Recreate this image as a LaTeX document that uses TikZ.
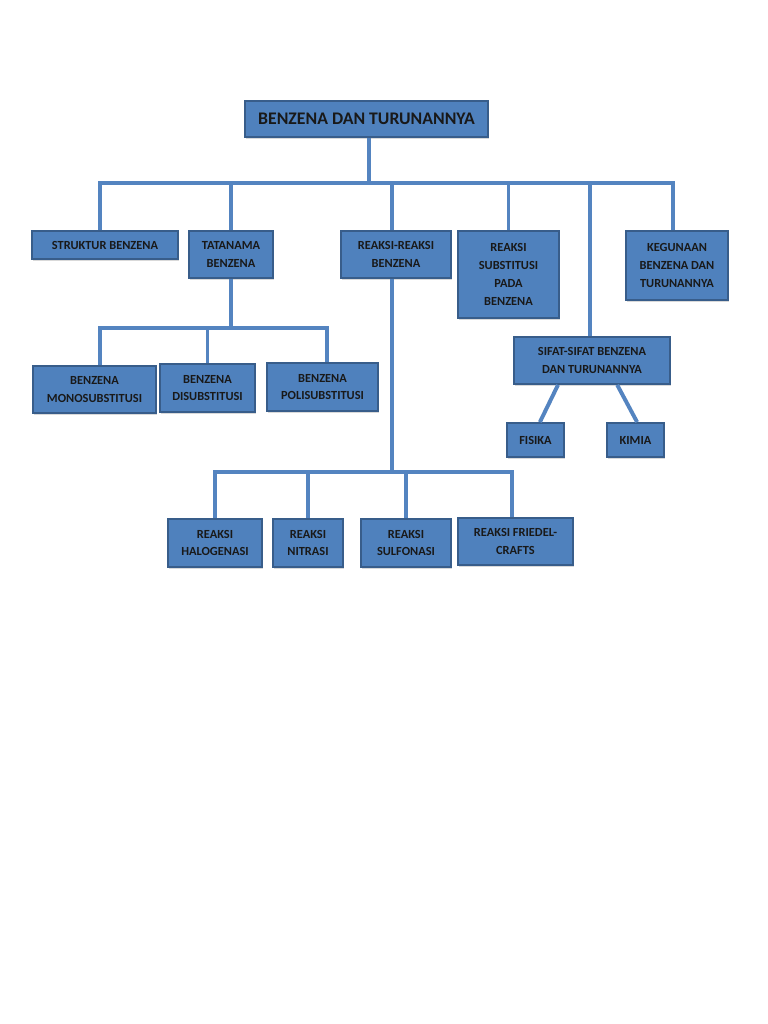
\documentclass[tikz,border=0pt]{standalone}
\usepackage{fontspec}
\setmainfont{Carlito}
\usepackage{tikz}
\usetikzlibrary{shadows}
\definecolor{boxblue}{RGB}{79,129,189}
\definecolor{boxedge}{RGB}{56,93,138}
\definecolor{linkblue}{RGB}{84,132,192}

\begin{document}
\begin{tikzpicture}[
  x=0.025cm, y=-0.025cm,
  box/.style={draw=boxedge, line width=1.3pt, fill=boxblue, align=center, inner sep=0pt,
    font=\bfseries\fontsize{8.8}{12.6}\selectfont, text=black!90,
    drop shadow={shadow xshift=1pt, shadow yshift=-1.5pt, opacity=0.3}},
  dim/.style 2 args={minimum width=#1*0.025cm, minimum height=#2*0.025cm},
  link/.style={draw=linkblue, line width=2.8pt}
]
\useasboundingbox (0,0) rectangle (768,1024);
\coordinate (busA) at (0,183);
\coordinate (tbus) at (0,328);
\coordinate (rbus) at (0,472);

\node[box, dim={243}{36}, font=\bfseries\fontsize{12.6}{15}\selectfont] (top) at (366.5,119) {BENZENA DAN TURUNANNYA};
\node[box, dim={146}{28}] (struk) at (105,245) {STRUKTUR BENZENA};
\node[box, dim={84}{47}] (tata) at (231,254.5) {TATANAMA\\BENZENA};
\node[box, dim={110}{47}] (reak) at (396,254.5) {REAKSI-REAKSI\\BENZENA};
\node[box, dim={101}{87}] (subst) at (508.5,274.5) {REAKSI\\SUBSTITUSI\\PADA\\BENZENA};
\node[box, dim={102}{69}] (guna) at (677,265.5) {KEGUNAAN\\BENZENA DAN\\TURUNANNYA};
\node[box, dim={123}{47}] (mono) at (94.5,389.5) {BENZENA\\MONOSUBSTITUSI};
\node[box, dim={95}{48}] (di) at (207.5,388) {BENZENA\\DISUBSTITUSI};
\node[box, dim={111}{48}] (poli) at (322.5,387) {BENZENA\\POLISUBSTITUSI};
\node[box, dim={156}{47}] (sifat) at (592,360.5) {SIFAT-SIFAT BENZENA\\DAN TURUNANNYA};
\node[box, dim={57}{34}] (fis) at (535.5,440) {FISIKA};
\node[box, dim={57}{34}] (kim) at (635.5,440) {KIMIA};
\node[box, dim={94}{48}] (halo) at (215,543) {REAKSI\\HALOGENASI};
\node[box, dim={70}{48}] (nitr) at (308,543) {REAKSI\\NITRASI};
\node[box, dim={90}{48}] (sulf) at (406,543) {REAKSI\\SULFONASI};
\node[box, dim={115}{47}] (fried) at (515.5,541.5) {REAKSI FRIEDEL-\\CRAFTS};

\draw[link] ([xshift=0.06cm]top.south) -- ([xshift=0.06cm]top.south |- busA);
\draw[link] ([xshift=-0.125cm]struk.north) -- ([xshift=-0.125cm]struk.north |- busA)
  -- ([xshift=-0.1cm]guna.north |- busA) -- ([xshift=-0.1cm]guna.north);
\draw[link] (tata.north) -- (tata.north |- busA);
\draw[link] ([xshift=-0.1cm]reak.north) -- ([xshift=-0.1cm]reak.north |- busA);
\draw[link] (subst.north) -- (subst.north |- busA);
\draw[link] ([xshift=-0.05cm]sifat.north) -- ([xshift=-0.05cm]sifat.north |- busA);

\draw[link] (tata.south) -- (tata.south |- tbus);
\draw[link] ([xshift=0.14cm]mono.north) -- ([xshift=0.14cm]mono.north |- tbus)
  -- ([xshift=0.11cm]poli.north |- tbus) -- ([xshift=0.11cm]poli.north);
\draw[link] (di.north) -- (di.north |- tbus);

\draw[link] ([xshift=-0.1cm]reak.south) -- ([xshift=-0.1cm]reak.south |- rbus);
\draw[link] (halo.north) -- (halo.north |- rbus) -- ([xshift=-0.09cm]fried.north |- rbus) -- ([xshift=-0.09cm]fried.north);
\draw[link] (nitr.north) -- (nitr.north |- rbus);
\draw[link] (sulf.north) -- (sulf.north |- rbus);

\draw[link] ([xshift=-0.85cm]sifat.south) -- ([xshift=0.11cm]fis.north);
\draw[link] ([xshift=0.63cm]sifat.south) -- ([xshift=0.04cm]kim.north);
\end{tikzpicture}
\end{document}
